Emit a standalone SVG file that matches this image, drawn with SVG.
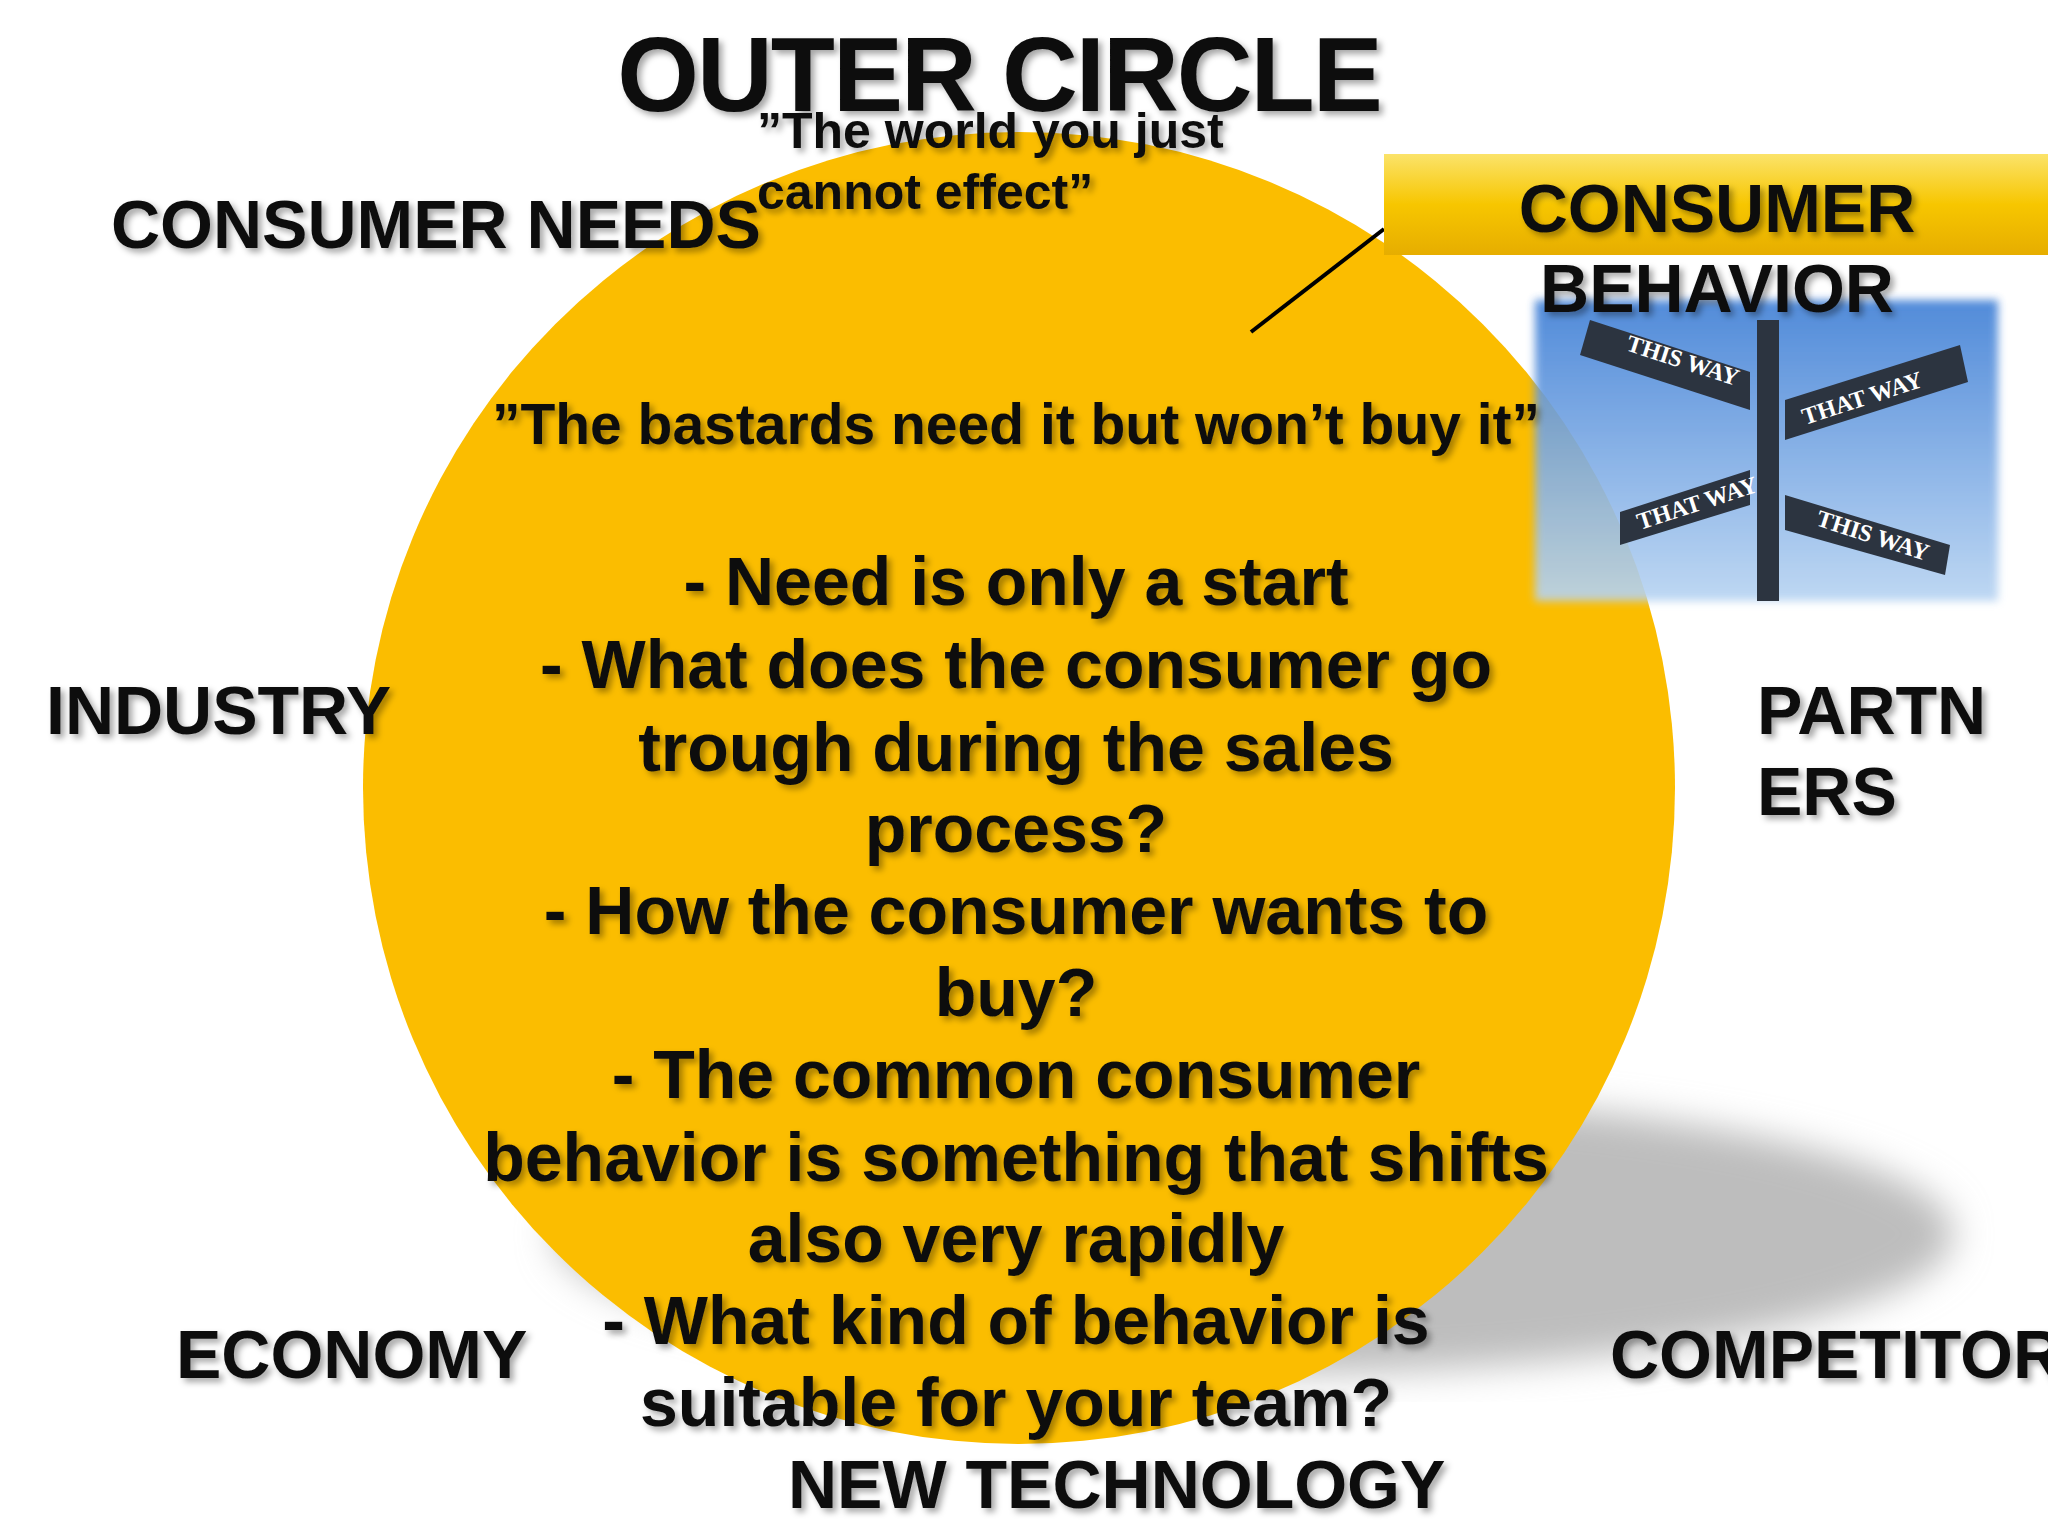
<svg xmlns="http://www.w3.org/2000/svg" width="2048" height="1536" viewBox="0 0 2048 1536">
<defs>
<style>
text{font-family:"Liberation Sans",Arial,sans-serif;font-weight:bold;fill:#111}
.lbl{font-size:68px}
.body{font-size:68px;text-anchor:middle}
.sign{font-family:"Liberation Serif",serif;font-size:24px;fill:#fff}
</style>
<filter id="sh" x="-10%" y="-20%" width="130%" height="150%"><feDropShadow dx="4" dy="4" stdDeviation="3" flood-color="#000" flood-opacity="0.35"/></filter>
<filter id="blur"><feGaussianBlur stdDeviation="18"/></filter>
<filter id="soft"><feGaussianBlur stdDeviation="4"/></filter>
<linearGradient id="gold" x1="0" y1="0" x2="0" y2="1"><stop offset="0" stop-color="#fbe36a"/><stop offset="0.5" stop-color="#f7c600"/><stop offset="1" stop-color="#e6ad00"/></linearGradient>
<linearGradient id="sky" x1="0" y1="0" x2="0" y2="1"><stop offset="0" stop-color="#3f7fd6"/><stop offset="1" stop-color="#b8d4f2"/></linearGradient>
</defs>
<rect width="2048" height="1536" fill="#fff"/>
<ellipse cx="1254" cy="1234" rx="700" ry="140" fill="#bdbdbd" filter="url(#blur)"/>
<g id="circle"><circle cx="1019" cy="788" r="656" fill="#fbbd00"/></g>
<g id="signpost">
<rect x="1535" y="300" width="463" height="301" fill="url(#sky)" opacity="0.9" filter="url(#soft)"/>
<rect x="1757" y="320" width="22" height="281" fill="#2c3440"/>
<polygon points="1590,320 1750,372 1750,410 1580,355" fill="#2c3440"/>
<text class="sign" x="1625" y="350" transform="rotate(18 1625 350)">THIS WAY</text>
<polygon points="1785,400 1960,345 1968,382 1785,440" fill="#2c3440"/>
<text class="sign" x="1805" y="425" transform="rotate(-18 1805 425)">THAT WAY</text>
<polygon points="1620,512 1750,470 1750,505 1620,545" fill="#2c3440"/>
<text class="sign" x="1640" y="530" transform="rotate(-18 1640 530)">THAT WAY</text>
<polygon points="1785,495 1950,545 1945,575 1785,530" fill="#2c3440"/>
<text class="sign" x="1815" y="525" transform="rotate(18 1815 525)">THIS WAY</text>
</g>
<g id="connectors"><line x1="1251" y1="332" x2="1384" y2="229" stroke="#000" stroke-width="4"/></g>
<g id="banner">
<rect x="1384" y="154" width="664" height="101" fill="url(#gold)"/>
<text x="1717" y="232" font-size="68" text-anchor="middle" filter="url(#sh)">CONSUMER</text>
<text x="1717" y="312" font-size="68" text-anchor="middle" filter="url(#sh)">BEHAVIOR</text>
</g>
<g id="title" filter="url(#sh)">
<text x="999" y="111" font-size="105" text-anchor="middle" letter-spacing="-2">OUTER CIRCLE</text>
<text x="757" y="148" font-size="50">”The world you just</text>
<text x="757" y="209" font-size="50">cannot effect”</text>
</g>
<g id="labels" filter="url(#sh)">
<text class="lbl" x="111" y="248">CONSUMER NEEDS</text>
<text class="lbl" x="46" y="734">INDUSTRY</text>
<text class="lbl" x="1757" y="734">PARTN</text>
<text class="lbl" x="1757" y="815">ERS</text>
<text class="lbl" x="176" y="1378">ECONOMY</text>
<text class="lbl" x="1610" y="1378">COMPETITOR</text>
<text class="lbl" x="788" y="1508">NEW TECHNOLOGY</text>
</g>
<g id="content" filter="url(#sh)">
<text x="1016" y="444" font-size="57" text-anchor="middle">”The bastards need it but won’t buy it”</text>
<text class="body" x="1016" y="605">- Need is only a start</text>
<text class="body" x="1016" y="688">- What does the consumer go</text>
<text class="body" x="1016" y="771">trough during the sales</text>
<text class="body" x="1016" y="852">process?</text>
<text class="body" x="1016" y="934">- How the consumer wants to</text>
<text class="body" x="1016" y="1016">buy?</text>
<text class="body" x="1016" y="1098">- The common consumer</text>
<text class="body" x="1016" y="1181">behavior is something that shifts</text>
<text class="body" x="1016" y="1262">also very rapidly</text>
<text class="body" x="1016" y="1344">- What kind of behavior is</text>
<text class="body" x="1016" y="1426">suitable for your team?</text>
</g>
</svg>
